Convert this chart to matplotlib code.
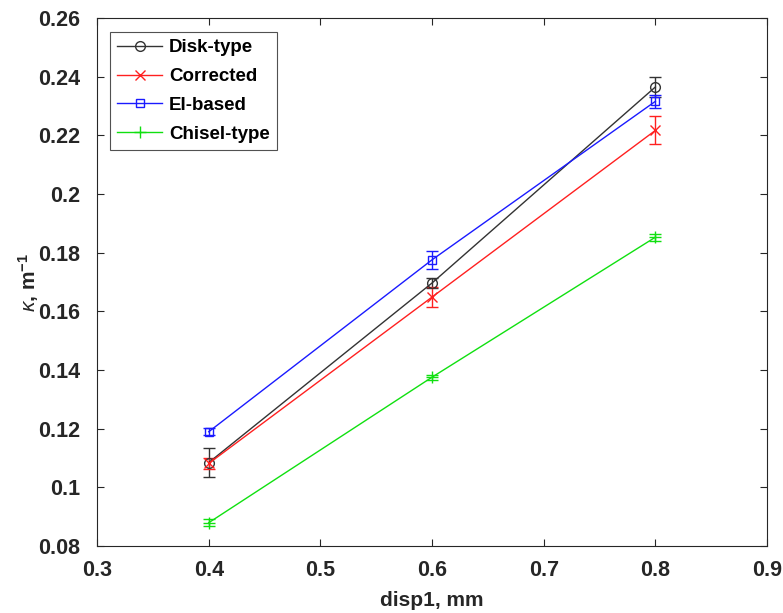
import matplotlib
matplotlib.use("Agg")
import matplotlib.pyplot as plt
from matplotlib.lines import Line2D

plt.rcParams['font.family'] = ['Liberation Sans', 'DejaVu Sans']
plt.rcParams['mathtext.fontset'] = 'custom'
plt.rcParams['mathtext.rm'] = 'Liberation Sans:bold'
plt.rcParams['mathtext.it'] = 'Liberation Sans:italic'
plt.rcParams['mathtext.bf'] = 'Liberation Sans:bold'

disp = [0.4, 0.6, 0.8]
disk = [0.1085, 0.1697, 0.2365]
disk_err = [0.0048, 0.0018, 0.0035]
corrected = [0.1082, 0.1649, 0.2217]
corrected_err = [0.002, 0.0035, 0.0048]
ei_based = [0.1190, 0.1776, 0.2316]
ei_err = [0.0012, 0.003, 0.0022]
chisel = [0.0880, 0.1376, 0.1853]
chisel_err = [0.0012, 0.0009, 0.0012]

labels = ['Disk-type', 'Corrected', 'EI-based', 'Chisel-type']
colors = ['#333333', '#ff2020', '#1a1aff', '#10e010']
markers = ['o', 'x', 's', '+']
msizes = [7, 7, 5.5, 8]
series = [disk, corrected, ei_based, chisel]
errs = [disk_err, corrected_err, ei_err, chisel_err]

fig = plt.figure(figsize=(7.83, 6.13), dpi=100)
ax = fig.add_axes([0.124, 0.109, 0.8556, 0.8616])

handles = []
for y, e, lab, c, m, ms in zip(series, errs, labels, colors, markers, msizes):
    ax.errorbar(disp, y, yerr=e, color=c, marker=m, markersize=ms,
                markerfacecolor='none', markeredgecolor=c, linewidth=1,
                elinewidth=1, capsize=4, capthick=1)
    handles.append(Line2D([], [], color=c, marker=m, markersize=ms,
                          markerfacecolor='none', markeredgecolor=c, linewidth=1, label=lab))

ax.set_xlim(0.3, 0.9)
ax.set_ylim(0.08, 0.26)
ax.set_xticks([0.3, 0.4, 0.5, 0.6, 0.7, 0.8, 0.9])
ax.set_xticklabels(['0.3', '0.4', '0.5', '0.6', '0.7', '0.8', '0.9'])
ax.set_yticks([0.08, 0.1, 0.12, 0.14, 0.16, 0.18, 0.2, 0.22, 0.24, 0.26])
ax.set_yticklabels(['0.08', '0.1', '0.12', '0.14', '0.16', '0.18', '0.2', '0.22', '0.24', '0.26'])
ax.tick_params(direction='in', top=True, right=True, length=5, width=0.8,
               labelsize=15.5, colors='#262626', labelcolor='#262626')
ax.tick_params(axis='x', pad=10)
ax.tick_params(axis='y', pad=12)
for lab in ax.get_xticklabels() + ax.get_yticklabels():
    lab.set_fontweight('bold')
for s in ax.spines.values():
    s.set_color('#262626')
    s.set_linewidth(0.8)

ax.set_xlabel('disp1, mm', fontsize=15, fontweight='bold', color='#262626', labelpad=7)
ax.set_ylabel(r'$\kappa$, m$^{-1}$', fontsize=15, fontweight='bold', color='#262626', labelpad=-2)

leg = ax.legend(handles=handles, loc='upper left', bbox_to_anchor=(0.019, 0.974),
                prop={'weight': 'bold', 'size': 13.5}, frameon=True, fancybox=False,
                edgecolor='#262626', handlelength=2.4, handletextpad=0.35,
                borderpad=0.4, labelspacing=0.62, borderaxespad=0)
leg.get_frame().set_linewidth(0.8)

fig.savefig('out.png', dpi=100)
